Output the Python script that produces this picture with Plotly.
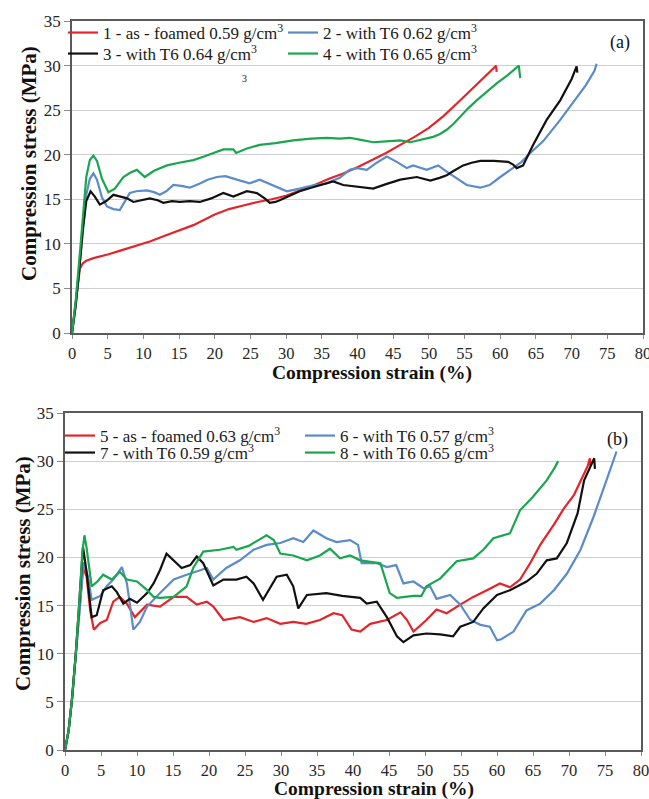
import plotly.graph_objects as go

# ---------------- data: chart (a) ----------------
a1_x = [0, 0.4, 0.8, 1.1, 1.5, 2.0, 3.0, 5.0, 7.0, 9.0, 11.0, 13.0, 15.0, 17.0, 20.0, 22.0, 24.0, 26.0, 28.0,
        30.0, 32.0, 34.0, 36.0, 38.0, 40.0, 42.0, 44.0, 46.0, 48.0, 50.0, 52.0, 54.0, 56.0, 58.0, 59.2, 59.4, 59.5]
a1_y = [0, 2.5, 5.5, 7.2, 7.8, 8.1, 8.4, 8.8, 9.3, 9.8, 10.3, 10.9, 11.5, 12.1, 13.3, 13.9, 14.3, 14.7, 15.0,
        15.4, 16.0, 16.6, 17.3, 17.9, 18.6, 19.4, 20.2, 21.1, 22.0, 23.0, 24.3, 25.8, 27.3, 28.9, 29.8, 30.0, 29.3]

a2_x = [0, 0.5, 1.0, 1.5, 2.0, 2.5, 3.0, 3.5, 4.2, 4.9, 5.8, 6.7, 7.4, 8.1, 9.0, 10.5, 11.5, 12.3, 13.2, 14.2,
        15.3, 16.5, 18.0, 19.0, 20.3, 21.5, 23.1, 24.9, 26.3, 27.5, 28.8, 30.1, 31.9, 33.5, 35.7, 37.5, 38.9,
        39.9, 41.3, 42.5, 44.1, 45.5, 46.9, 47.8, 49.7, 51.3, 52.5, 54.0, 55.3, 57.2, 58.5, 60.0, 61.8, 63.0,
        64.2, 66.0, 68.4, 70.5, 72.0, 73.2, 73.5]
a2_y = [0, 3.0, 7.0, 11.5, 15.5, 17.3, 17.9, 17.2, 15.2, 14.2, 13.9, 13.8, 14.8, 15.7, 15.9, 16.0, 15.8, 15.5,
        15.9, 16.6, 16.5, 16.3, 16.8, 17.2, 17.5, 17.6, 17.2, 16.8, 17.2, 16.8, 16.3, 15.9, 16.2, 16.5, 16.8,
        17.4, 18.3, 18.5, 18.3, 19.0, 19.8, 19.2, 18.5, 18.8, 18.3, 18.8, 18.1, 17.3, 16.6, 16.3, 16.6, 17.5,
        18.5, 19.2, 20.2, 21.5, 23.9, 26.1, 27.8, 29.4, 30.2]

a3_x = [0, 0.5, 1.0, 1.5, 2.0, 2.6, 3.2, 3.9, 4.8, 5.8, 6.8, 7.7, 8.6, 9.8, 10.9, 12.0, 12.8, 14.0, 15.1, 16.5,
        17.9, 19.5, 21.2, 22.6, 24.5, 25.9, 27.0, 27.7, 28.5, 29.1, 30.5, 31.9, 33.5, 35.0, 36.6, 38.0, 39.9,
        42.2, 44.0, 46.0, 48.3, 50.2, 51.5, 52.5, 53.5, 54.8, 56.0, 57.2, 59.1, 61.1, 61.8, 62.3, 63.2, 64.6,
        66.5, 68.4, 70.0, 70.7, 70.8]
a3_y = [0, 3.0, 7.0, 11.5, 14.8, 15.9, 15.3, 14.4, 14.8, 15.5, 15.3, 15.1, 14.7, 14.9, 15.1, 14.9, 14.6, 14.8,
        14.7, 14.8, 14.7, 15.1, 15.7, 15.3, 15.9, 15.7, 15.1, 14.6, 14.7, 14.9, 15.4, 15.9, 16.3, 16.6, 17.0,
        16.6, 16.4, 16.2, 16.7, 17.2, 17.5, 17.1, 17.4, 17.7, 18.2, 18.8, 19.1, 19.3, 19.3, 19.2, 18.9, 18.5,
        18.8, 21.1, 23.9, 26.1, 28.5, 29.9, 29.2]

a4_x = [0, 0.5, 1.0, 1.5, 2.0, 2.5, 3.0, 3.5, 4.2, 5.1, 6.0, 7.2, 8.2, 9.1, 10.2, 11.5, 13.3, 15.0, 17.0, 18.5,
        19.8, 21.2, 22.6, 23.0, 24.5, 26.3, 28.5, 31.0, 33.5, 35.7, 37.5, 38.9, 40.3, 42.2, 44.0, 46.0, 47.4,
        49.0, 50.6, 51.5, 52.5, 53.5, 54.4, 55.5, 56.7, 58.0, 59.5, 61.0, 62.0, 62.6, 62.8]
a4_y = [0, 3.5, 8.0, 13.0, 17.5, 19.4, 19.9, 19.3, 17.3, 15.8, 16.2, 17.5, 18.0, 18.3, 17.5, 18.2, 18.8, 19.1,
        19.4, 19.8, 20.2, 20.6, 20.6, 20.2, 20.7, 21.1, 21.3, 21.6, 21.8, 21.9, 21.8, 21.9, 21.7, 21.4, 21.5,
        21.6, 21.4, 21.7, 22.0, 22.3, 22.8, 23.5, 24.3, 25.2, 26.1, 27.0, 28.0, 28.9, 29.6, 30.0, 28.6]

# ---------------- data: chart (b) ----------------
b5_x = [0, 0.5, 1.0, 1.5, 2.0, 2.5, 3.0, 3.5, 4.0, 4.9, 5.8, 6.7, 7.6, 8.6, 9.7, 10.5, 11.4, 13.2, 15.1, 16.9,
        18.3, 19.7, 20.6, 22.0, 24.3, 26.2, 28.0, 29.9, 31.7, 33.5, 35.4, 37.3, 38.5, 39.8, 41.0, 42.4, 44.7,
        46.6, 47.5, 48.4, 50.2, 51.6, 53.0, 54.9, 56.7, 58.6, 60.4, 61.8, 63.2, 64.6, 66.0, 67.9, 69.3, 70.7,
        71.6, 72.6, 72.9, 73.0]
b5_y = [0, 2.0, 5.5, 10.0, 15.0, 19.0, 18.0, 14.5, 12.5, 13.2, 13.5, 15.4, 15.9, 15.2, 13.8, 14.4, 15.1, 14.9,
        15.9, 15.9, 15.1, 15.4, 14.9, 13.5, 13.8, 13.3, 13.7, 13.1, 13.3, 13.1, 13.5, 14.2, 14.0, 12.5, 12.3,
        13.1, 13.5, 14.3, 13.5, 12.3, 13.5, 14.6, 14.2, 15.1, 15.9, 16.6, 17.3, 16.9, 17.7, 19.4, 21.3, 23.4,
        25.1, 26.5, 28.0, 29.5, 30.3, 29.5]

b6_x = [0, 0.5, 1.0, 1.5, 2.0, 2.6, 3.2, 3.7, 4.9, 5.8, 6.7, 7.9, 8.6, 9.0, 9.5, 10.4, 11.4, 13.2, 15.1, 16.9,
        18.8, 19.7, 20.6, 22.4, 24.3, 26.2, 28.0, 29.9, 31.7, 33.1, 34.5, 36.3, 37.7, 39.6, 40.7, 41.2, 43.3,
        44.7, 46.0, 47.0, 48.4, 49.8, 50.7, 51.6, 53.5, 54.9, 56.3, 57.7, 59.0, 60.0, 60.6, 62.3, 64.1, 66.0,
        67.9, 69.7, 71.6, 73.4, 75.2, 76.0, 76.6]
b6_y = [0, 2.0, 5.5, 10.0, 15.0, 19.5, 18.0, 15.6, 16.0, 17.0, 17.7, 19.0, 17.3, 15.0, 12.5, 13.3, 14.9, 16.3,
        17.7, 18.2, 18.7, 18.9, 17.7, 18.9, 19.7, 20.8, 21.3, 21.5, 22.0, 21.6, 22.8, 22.0, 21.6, 21.8, 21.3,
        19.4, 19.4, 19.0, 19.2, 17.3, 17.5, 16.8, 17.0, 15.7, 16.1, 15.1, 13.5, 13.0, 12.8, 11.4, 11.5, 12.3,
        14.5, 15.2, 16.6, 18.3, 20.8, 24.2, 28.0, 29.8, 31.0]

b7_x = [0, 0.5, 1.0, 1.5, 2.0, 2.5, 3.0, 3.7, 4.4, 5.3, 6.5, 7.2, 8.1, 9.0, 10.0, 11.4, 12.3, 13.2, 14.1, 15.1,
        16.2, 17.4, 18.3, 19.2, 20.6, 22.0, 23.8, 25.2, 26.2, 27.5, 28.5, 29.4, 30.8, 31.7, 32.4, 33.6, 36.3,
        38.5, 41.0, 41.9, 43.3, 44.7, 46.1, 47.0, 48.4, 50.2, 52.1, 53.9, 54.9, 56.7, 58.1, 60.0, 61.8, 64.1,
        65.5, 66.9, 68.3, 69.7, 71.2, 72.1, 73.2, 73.5, 73.6]
b7_y = [0, 2.0, 5.5, 10.0, 15.5, 21.1, 18.5, 13.8, 14.0, 16.6, 17.0, 16.4, 15.2, 15.7, 15.3, 16.3, 17.3, 18.7,
        20.4, 19.7, 18.9, 19.2, 20.1, 19.4, 17.1, 17.7, 17.7, 18.0, 17.3, 15.6, 16.8, 18.0, 18.2, 17.0, 14.7,
        16.1, 16.3, 16.0, 15.8, 15.2, 15.4, 13.8, 11.8, 11.2, 11.9, 12.1, 12.0, 11.8, 12.8, 13.3, 14.7, 16.1,
        16.6, 17.5, 18.3, 19.7, 19.9, 21.5, 24.6, 28.0, 29.8, 30.3, 29.2]

b8_x = [0, 0.5, 1.0, 1.5, 2.0, 2.4, 2.7, 3.0, 3.7, 4.5, 5.3, 6.5, 7.6, 8.6, 10.0, 11.4, 12.3, 13.2, 15.1, 16.9,
        17.8, 19.2, 21.5, 23.4, 23.8, 25.5, 27.1, 28.0, 29.0, 29.9, 31.7, 33.6, 35.4, 36.8, 38.2, 39.6, 41.0,
        43.8, 45.1, 46.1, 48.4, 49.5, 50.2, 52.1, 54.4, 56.7, 58.1, 59.5, 61.8, 63.2, 65.0, 66.9, 68.0, 68.5]
b8_y = [0, 2.0, 5.5, 10.0, 15.5, 20.5, 22.3, 21.0, 17.0, 17.5, 18.2, 17.7, 18.5, 17.7, 17.5, 16.6, 15.9, 15.8,
        15.9, 17.0, 18.9, 20.6, 20.8, 21.1, 20.8, 21.2, 21.9, 22.3, 21.8, 20.4, 20.2, 19.7, 20.2, 20.9, 19.9,
        20.2, 19.7, 19.4, 16.3, 15.8, 16.0, 16.0, 17.0, 17.8, 19.6, 19.9, 20.8, 22.0, 22.5, 24.9, 26.3, 28.0,
        29.3, 30.0]

names_a = ["1 - as - foamed 0.59 g/cm<sup>3</sup>", "2 - with T6 0.62 g/cm<sup>3</sup>",
           "3 - with T6 0.64 g/cm<sup>3</sup>", "4 - with T6 0.65 g/cm<sup>3</sup>"]
names_b = ["5 - as - foamed 0.63 g/cm<sup>3</sup>", "6 - with T6 0.57 g/cm<sup>3</sup>",
           "7 - with T6 0.59 g/cm<sup>3</sup>", "8 - with T6 0.65 g/cm<sup>3</sup>"]
panel_labels = ["(a)", "(b)"]
x_title = "Compression strain (%)"
y_title = "Compression stress (MPa)"

colors = ["#E3242B", "#5B8BC8", "#111111", "#1AA64F"]
SERIF = "Liberation Serif, Times New Roman, serif"
W, H = 649, 799

fig = go.Figure()

series_a = [(a1_x, a1_y), (a2_x, a2_y), (a3_x, a3_y), (a4_x, a4_y)]
series_b = [(b5_x, b5_y), (b6_x, b6_y), (b7_x, b7_y), (b8_x, b8_y)]

for i, (xs, ys) in enumerate(series_a):
    fig.add_trace(go.Scatter(x=xs, y=ys, mode="lines", name=names_a[i], showlegend=True,
                             line=dict(color=colors[i], width=2.2),
                             xaxis="x", yaxis="y", legend="legend" if i == 0 else f"legend{i+1}"))
for i, (xs, ys) in enumerate(series_b):
    fig.add_trace(go.Scatter(x=xs, y=ys, mode="lines", name=names_b[i], showlegend=True,
                             line=dict(color=colors[i], width=2.2),
                             xaxis="x2", yaxis="y2", legend=f"legend{i+5}"))

def px_x(p):
    return p / W

def px_y(p):
    return 1 - p / H

# plot areas (pixels)
top = dict(l=72, r=643, t=21, b=333)
bot = dict(l=65, r=641, t=413, b=750)

axis_common = dict(range=[0, 80], dtick=5, tick0=0, showgrid=False, zeroline=False, automargin=False,
                   showline=True, linecolor="#5a5a5a", linewidth=1.6, mirror=True,
                   ticks="outside", ticklen=4, tickcolor="#8a8a8a", tickwidth=1,
                   ticklabeloverflow="allow",
                   tickfont=dict(family=SERIF, size=16.5, color="#262626"))
yaxis_common = dict(range=[0, 35], dtick=5, tick0=0, showgrid=True, gridcolor="#cfcfcf", gridwidth=1.3,
                    zeroline=False, automargin=False, showline=True, linecolor="#5a5a5a", linewidth=1.6,
                    mirror=True, ticks="outside", ticklen=6, tickcolor="#8a8a8a", tickwidth=1,
                    ticklabeloverflow="allow",
                    tickfont=dict(family=SERIF, size=17, color="#262626"))

fig.update_layout(
    width=W, height=H, margin=dict(l=0, r=0, t=0, b=0, autoexpand=False),
    paper_bgcolor="white", plot_bgcolor="white", showlegend=True,
    xaxis=dict(axis_common, domain=[px_x(top["l"]), px_x(top["r"])], anchor="y"),
    yaxis=dict(yaxis_common, domain=[px_y(top["b"]), px_y(top["t"])], anchor="x"),
    xaxis2=dict(axis_common, domain=[px_x(bot["l"]), px_x(bot["r"])], anchor="y2"),
    yaxis2=dict(yaxis_common, domain=[px_y(bot["b"]), px_y(bot["t"])], anchor="x2"),
)

# legends: one per entry, positioned in two columns inside the top band of each chart
leg_font = dict(family=SERIF, size=17, color="#1a1a1a")
leg_pos = [  # (text-start px x, row-centre px y)
    (105, 33), (325, 33), (105, 54), (325, 54),
    (102, 436), (342, 436), (102, 453), (342, 453),
]
for k, (tx, ty) in enumerate(leg_pos):
    key = "legend" if k == 0 else f"legend{k+1}"
    fig.update_layout({key: dict(x=px_x(tx - 42), y=px_y(ty), xanchor="left", yanchor="middle",
                                 bgcolor="rgba(0,0,0,0)", borderwidth=0, font=leg_font,
                                 itemclick=False, itemdoubleclick=False)})

def ann(text, x, y, xref, yref, size, angle=0, bold=False):
    return dict(text=f"<b>{text}</b>" if bold else text, x=x, y=y, xref=xref, yref=yref,
                xanchor="center", yanchor="middle", showarrow=False, textangle=angle,
                font=dict(family=SERIF, size=size, color="#111"))

annotations = [
    ann(panel_labels[0], 76.8, 32.6, "x", "y", 18),
    ann(panel_labels[1], 76.7, 32.2, "x2", "y2", 18),
    ann("3", 24.2, 28.6, "x", "y", 10),
    ann(x_title, px_x(372), px_y(372.5), "paper", "paper", 19.5, bold=True),
    ann(x_title, px_x(374), px_y(788.5), "paper", "paper", 19.5, bold=True),
    ann(y_title, px_x(29), px_y(164), "paper", "paper", 21, angle=-90, bold=True),
    ann(y_title, px_x(23), px_y(574), "paper", "paper", 21, angle=-90, bold=True),
]
fig.update_layout(annotations=annotations)

fig.write_html("out.html", config={"displayModeBar": False},
               post_script="document.body.style.margin='0';document.body.style.padding='0';"
                           "document.body.style.overflow='hidden';")
